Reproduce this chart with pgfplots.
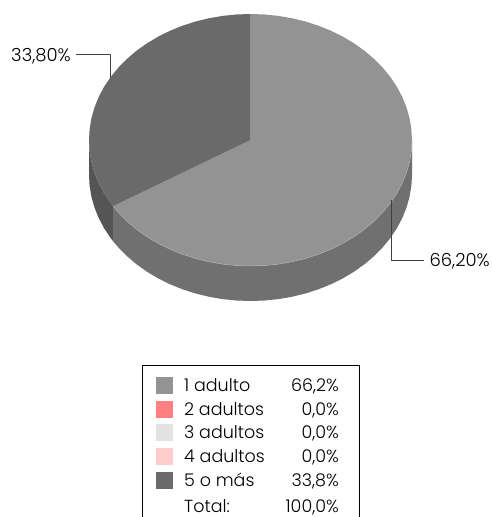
\documentclass[border=0pt]{standalone}
\usepackage{pgfplots}
\pgfplotsset{compat=1.18}
\usepackage{fontspec}
\setmainfont{Poppins Light}
\definecolor{topL}{HTML}{939393}
\definecolor{topD}{HTML}{6A6A6A}
\definecolor{wallL}{HTML}{707070}
\definecolor{wallD}{HTML}{555555}
\definecolor{rim}{HTML}{ADADAD}
\definecolor{lead}{HTML}{404040}
\begin{document}
\begin{tikzpicture}
\path[use as bounding box] (0,0) rectangle (492pt,517pt);
\begin{axis}[
  at={(0,0)}, anchor=south west,
  scale only axis, width=492pt, height=517pt,
  xmin=0, xmax=492, ymin=0, ymax=517, y dir=reverse,
  axis lines=none, clip=true,
  every axis plot/.append style={line join=round},
]
% walls
\addplot[fill=wallD, draw=none] coordinates {(113.1,206.2)(110.64,203)(104.13,193.25)(98.74,183.09)(94.50,172.61)(91.45,161.88)(89.62,150.98)(89,140)(89,175)(89.62,185.98)(91.45,196.88)(94.50,207.61)(98.74,218.09)(104.13,228.25)(110.64,238)(113.1,241.2)} -- cycle;
\addplot[fill=wallL, draw=none] coordinates {(412,140)(411.38,150.98)(409.55,161.88)(406.50,172.61)(402.26,183.09)(396.87,193.25)(390.36,203)(382.79,212.27)(374.21,220.99)(364.70,229.10)(354.31,236.52)(343.13,243.21)(331.25,249.12)(318.75,254.20)(305.74,258.40)(292.30,261.71)(278.54,264.09)(264.58,265.52)(250.5,266)(236.42,265.52)(222.46,264.09)(208.70,261.71)(195.26,258.40)(182.25,254.20)(169.75,249.12)(157.87,243.21)(146.69,236.52)(136.30,229.10)(126.79,220.99)(118.21,212.27)(113.1,206.2)(113.1,241.2)(118.21,247.27)(126.79,255.99)(136.30,264.10)(146.69,271.52)(157.87,278.21)(169.75,284.12)(182.25,289.20)(195.26,293.40)(208.70,296.71)(222.46,299.09)(236.42,300.52)(250.5,301)(264.58,300.52)(278.54,299.09)(292.30,296.71)(305.74,293.40)(318.75,289.20)(331.25,284.12)(343.13,278.21)(354.31,271.52)(364.70,264.10)(374.21,255.99)(382.79,247.27)(390.36,238)(396.87,228.25)(402.26,218.09)(406.50,207.61)(409.55,196.88)(411.38,185.98)(412,175)} -- cycle;
% top, 66.2 %
\addplot[fill=topL, draw=none] coordinates {(250.5,140)(250.5,14)(264.58,14.48)(278.54,15.91)(292.30,18.29)(305.74,21.60)(318.75,25.80)(331.25,30.88)(343.13,36.79)(354.31,43.48)(364.70,50.90)(374.21,59.01)(382.79,67.73)(390.36,77)(396.87,86.75)(402.26,96.91)(406.50,107.39)(409.55,118.12)(411.38,129.02)(412,140)(411.38,150.98)(409.55,161.88)(406.50,172.61)(402.26,183.09)(396.87,193.25)(390.36,203)(382.79,212.27)(374.21,220.99)(364.70,229.10)(354.31,236.52)(343.13,243.21)(331.25,249.12)(318.75,254.20)(305.74,258.40)(292.30,261.71)(278.54,264.09)(264.58,265.52)(250.5,266)(236.42,265.52)(222.46,264.09)(208.70,261.71)(195.26,258.40)(182.25,254.20)(169.75,249.12)(157.87,243.21)(146.69,236.52)(136.30,229.10)(126.79,220.99)(118.21,212.27)(113.1,206.2)} -- cycle;
% top, 33.8 %
\addplot[fill=topD, draw=none] coordinates {(250.5,140)(113.1,206.2)(110.64,203)(104.13,193.25)(98.74,183.09)(94.50,172.61)(91.45,161.88)(89.62,150.98)(89,140)(89.62,129.02)(91.45,118.12)(94.50,107.39)(98.74,96.91)(104.13,86.75)(110.64,77)(118.21,67.73)(126.79,59.01)(136.30,50.90)(146.69,43.48)(157.87,36.79)(169.75,30.88)(182.25,25.80)(195.26,21.60)(208.70,18.29)(222.46,15.91)(236.42,14.48)(250.5,14)} -- cycle;
% light rim along the front edge
\addplot[rim, line width=0.5pt] coordinates {(412,140)(411.38,150.98)(409.55,161.88)(406.50,172.61)(402.26,183.09)(396.87,193.25)(390.36,203)(382.79,212.27)(374.21,220.99)(364.70,229.10)(354.31,236.52)(343.13,243.21)(331.25,249.12)(318.75,254.20)(305.74,258.40)(292.30,261.71)(278.54,264.09)(264.58,265.52)(250.5,266)(236.42,265.52)(222.46,264.09)(208.70,261.71)(195.26,258.40)(182.25,254.20)(169.75,249.12)(157.87,243.21)(146.69,236.52)(136.30,229.10)(126.79,220.99)(118.21,212.27)(113.1,206.2)};
% leaders
\addplot[lead, line width=0.7pt] coordinates {(76,54.5)(110,54.5)(110,78)};
\addplot[lead, line width=0.7pt] coordinates {(391,200)(391,260)(424,260)};
\node[anchor=base east, font=\fontsize{18}{20}\selectfont, text=black, inner sep=0pt] at (axis cs:71,61) {33,80\%};
\node[anchor=base east, font=\fontsize{18}{20}\selectfont, text=black, inner sep=0pt] at (axis cs:490,266.5) {66,20\%};
% legend frame
\addplot[black, line width=0.7pt] coordinates {(142,518)(142,365)(359,365)(359,518)};
% legend keys
\addplot[fill=topL, draw=none] coordinates {(156,377)(173,377)(173,394)(156,394)} -- cycle;
\addplot[fill={rgb,255:red,255;green,128;blue,128}, draw=none] coordinates {(156,401)(173,401)(173,418)(156,418)} -- cycle;
\addplot[fill={rgb,255:red,226;green,226;blue,226}, draw=none] coordinates {(156,424)(173,424)(173,441)(156,441)} -- cycle;
\addplot[fill={rgb,255:red,255;green,204;blue,204}, draw=none] coordinates {(156,448)(173,448)(173,465)(156,465)} -- cycle;
\addplot[fill=topD, draw=none] coordinates {(156,472)(173,472)(173,489)(156,489)} -- cycle;
% legend text
\begin{scope}[every node/.style={inner sep=0pt, font=\fontsize{17.5}{20}\selectfont}]
\node[anchor=base west] at (axis cs:184,391.5) {1 adulto};
\node[anchor=base west] at (axis cs:184,415) {2 adultos};
\node[anchor=base west] at (axis cs:184,438.5) {3 adultos};
\node[anchor=base west] at (axis cs:184,462) {4 adultos};
\node[anchor=base west] at (axis cs:184,486) {5 o más};
\node[anchor=base west] at (axis cs:184,512) {Total:};
\node[anchor=base east] at (axis cs:339,391.5) {66,2\%};
\node[anchor=base east] at (axis cs:339,415) {0,0\%};
\node[anchor=base east] at (axis cs:339,438.5) {0,0\%};
\node[anchor=base east] at (axis cs:339,462) {0,0\%};
\node[anchor=base east] at (axis cs:339,486) {33,8\%};
\node[anchor=base east] at (axis cs:339,512) {100,0\%};
\end{scope}
\end{axis}
\end{tikzpicture}
\end{document}
